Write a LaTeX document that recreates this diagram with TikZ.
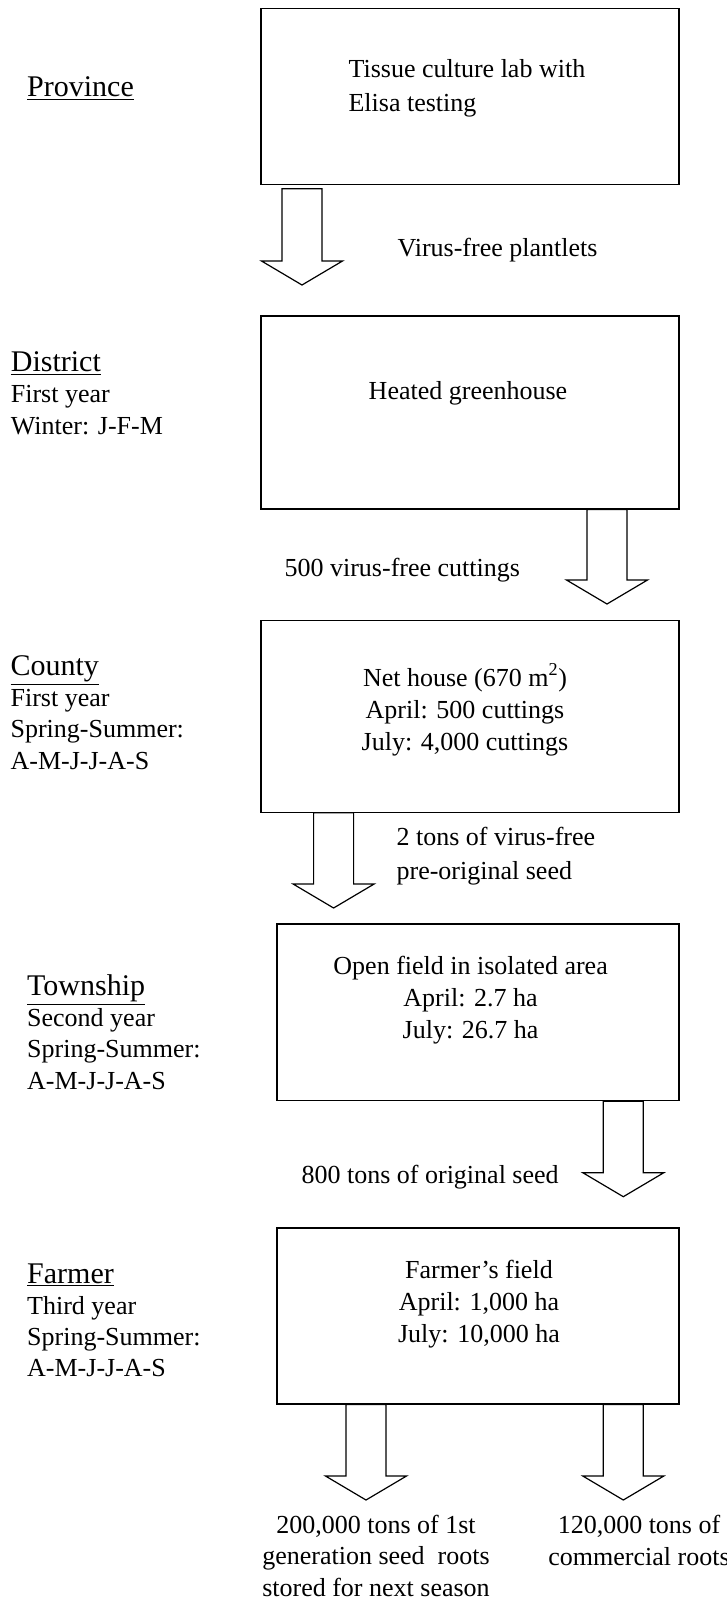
\documentclass[tikz,border=0pt]{standalone}
\usepackage{fontspec}
\setmainfont{Liberation Serif}
\usetikzlibrary{calc}

\tikzset{every picture/.style={line width=0.9pt}}
\tikzset{
  stagebox/.style={draw, minimum width=313.5pt, inner sep=0pt},
  narrowbox/.style={stagebox, minimum width=301.5pt},
  fatarrow/.style={draw, fill=white, line join=miter},
  txt/.style={inner sep=0.75pt, font=\fontsize{19.5}{24}\selectfont},
  lvl/.style={inner sep=0.75pt, anchor=base west, align=left, font=\fontsize{19.5}{23.3}\selectfont},
}
\newcommand{\lvlname}[1]{{\fontsize{22.5}{26}\selectfont\underline{#1}}}
% block arrow from #1 (top of shaft) down to #2 (tip)
\newcommand{\fatarrow}[2]{%
  \draw[fatarrow] ($(#1)+(-20,0)$) -- ($(#2)+(-20,-24)$) -- ($(#2)+(-40.5,-24)$) -- (#2)
    -- ($(#2)+(40.5,-24)$) -- ($(#2)+(20,-24)$) -- ($(#1)+(20,0)$) -- cycle;}

\begin{document}
\begin{tikzpicture}[x=0.75pt,y=0.75pt,yscale=-1,xscale=1]
\useasboundingbox (0,0) rectangle (727,1602);

%Shape: Rectangle
\node[stagebox, minimum height=132pt] (lab) at (470,96.3) {};
%Shape: Rectangle
\node[stagebox, minimum height=144.75pt] (greenhouse) at (470,412.5) {};
%Shape: Rectangle
\node[stagebox, minimum height=143.6pt] (nethouse) at (470,716.5) {};
%Shape: Rectangle
\node[narrowbox, minimum height=132.5pt] (openfield) at (478,1012.4) {};
%Shape: Rectangle
\node[narrowbox, minimum height=132pt] (farmfield) at (478,1316) {};

% Text Node (base = last line)
\node[txt, anchor=base west, align=left, font=\fontsize{19.5}{25.5}\selectfont] (labtxt) at (347,111.3) {Tissue culture lab with\\Elisa testing};
% Text Node
\node[txt, anchor=base] (greentxt) at (468,399.3) {Heated greenhouse};
% Text Node
\node[txt, anchor=base, align=center] (nettxt) at (465,750) {Net house (670 m\textsuperscript{2})\\April: 500 cuttings\\July: 4,000 cuttings};
% Text Node
\node[txt, anchor=base, align=center] (opentxt) at (470.6,1038) {Open field in isolated area\\April: 2.7 ha\\July: 26.7 ha};
% Text Node
\node[txt, anchor=base, align=center] (farmtxt) at (479,1342) {Farmer’s field\\April: 1,000 ha\\July: 10,000 ha};

% Level labels
\node[lvl] (province) at (25.6,96.7) {\lvlname{Province}};
\node[lvl] (district) at (9.3,434) {\lvlname{District}\\First year\\Winter: J-F-M};
\node[lvl] (county) at (9,769) {\lvlname{County}\\First year\\Spring-Summer:\\A-M-J-J-A-S};
\node[lvl] (township) at (25.6,1089) {\lvlname{Township}\\Second year\\Spring-Summer:\\A-M-J-J-A-S};
\node[lvl] (farmer) at (25.6,1376.5) {\lvlname{Farmer}\\Third year\\Spring-Summer:\\A-M-J-J-A-S};

% Arrows
\coordinate (plantTop) at (302,188.7);
\coordinate (plantTip) at (302,285);
\coordinate (cutTip) at (607,604);
\coordinate (cutTop) at (cutTip |- greenhouse.south);
\coordinate (preTip) at (333.6,908);
\coordinate (preTop) at (preTip |- nethouse.south);
\coordinate (origTip) at (623.3,1196.7);
\coordinate (origTop) at (origTip |- openfield.south);
\coordinate (seedTip) at (366,1500);
\coordinate (seedTop) at (seedTip |- farmfield.south);
\coordinate (commTip) at (623.3,1500);
\coordinate (commTop) at (commTip |- farmfield.south);
\fatarrow{plantTop}{plantTip}
\fatarrow{cutTop}{cutTip}
\fatarrow{preTop}{preTip}
\fatarrow{origTop}{origTip}
\fatarrow{seedTop}{seedTip}
\fatarrow{commTop}{commTip}

% Arrow labels
\node[txt, anchor=base west] (plantlbl) at (396,256) {Virus-free plantlets};
\node[txt, anchor=base west] (cutlbl) at (283,576) {500 virus-free cuttings};
\node[txt, anchor=base west, align=left, font=\fontsize{19.5}{25.5}\selectfont] (prelbl) at (395,879.3) {2 tons of virus-free\\pre-original seed};
\node[txt, anchor=base west] (origlbl) at (300,1183.3) {800 tons of original seed};
\node[txt, anchor=base, align=center, font=\fontsize{19.5}{23.6}\selectfont] (seedlbl) at (376,1596) {200,000 tons of 1st\\generation seed~ roots\\stored for next season};
\node[txt, anchor=base, align=center, font=\fontsize{19.5}{23.6}\selectfont] (commlbl) at (639,1565) {120,000 tons of\\commercial roots};

\end{tikzpicture}
\end{document}
